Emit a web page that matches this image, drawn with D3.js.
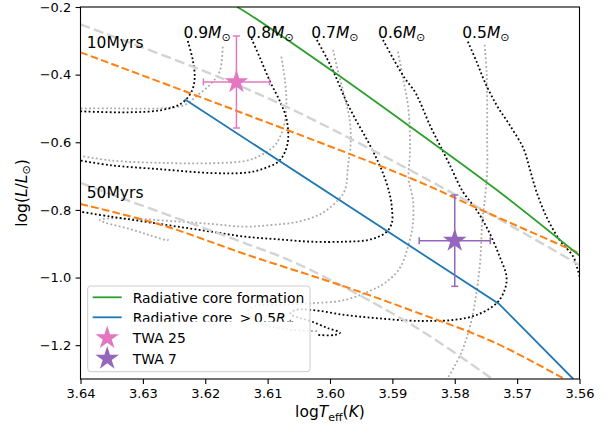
<!DOCTYPE html>
<html>
<head>
<meta charset="utf-8">
<script src="https://cdn.jsdelivr.net/npm/d3@7"></script>
<style>
  html, body { margin: 0; padding: 0; background: #fff; }
  svg { display: block; font-family: "DejaVu Sans", sans-serif; }
</style>
</head>
<body>
<svg id="chart" width="608" height="427"></svg>
<script>
// ---- axis ticks ----
const xTicks = [3.64, 3.63, 3.62, 3.61, 3.60, 3.59, 3.58, 3.57, 3.56];
const yTicks = [-1.2, -1.0, -0.8, -0.6, -0.4, -0.2];

// ---- evolutionary tracks, model A (black dotted): [logTeff, logL] ----
const trackA09 = [[3.6228,-0.3005],[3.6220,-0.3567],[3.6217,-0.4108],[3.6222,-0.4504],[3.6238,-0.4847],[3.6270,-0.5046],[3.6324,-0.5114],[3.6400,-0.5085]];
const trackA08 = [[3.6126,-0.2925],[3.6112,-0.3517],[3.6096,-0.4209],[3.6080,-0.4800],[3.6070,-0.5291],[3.6067,-0.5882],[3.6072,-0.6279],[3.6083,-0.6574],[3.6110,-0.6800],[3.6136,-0.6900],[3.6190,-0.6910],[3.6270,-0.6800],[3.6351,-0.6680],[3.6400,-0.6540]];
const trackA07 = [[3.6021,-0.2976],[3.6005,-0.3517],[3.5992,-0.4011],[3.5976,-0.4700],[3.5960,-0.5291],[3.5939,-0.5983],[3.5923,-0.6574],[3.5912,-0.7065],[3.5904,-0.7559],[3.5901,-0.7905],[3.5901,-0.8396],[3.5912,-0.8691],[3.5939,-0.8889],[3.5976,-0.8940],[3.6030,-0.8940],[3.6083,-0.8869],[3.6136,-0.8792],[3.6190,-0.8644],[3.6244,-0.8496],[3.6297,-0.8348],[3.6351,-0.8200],[3.6400,-0.8053]];
const trackA06 = [[3.5915,-0.2976],[3.5899,-0.3517],[3.5880,-0.4108],[3.5864,-0.4504],[3.5856,-0.4800],[3.5840,-0.5489],[3.5824,-0.6080],[3.5808,-0.6672],[3.5787,-0.7461],[3.5765,-0.8002],[3.5744,-0.8691],[3.5728,-0.9383],[3.5717,-0.9975],[3.5720,-1.0368],[3.5733,-1.0761],[3.5765,-1.1107],[3.5803,-1.1255],[3.5845,-1.1284],[3.5872,-1.1275],[3.5923,-1.1205],[3.5976,-1.1107],[3.6029,-1.0959],[3.6056,-1.0965],[3.6064,-1.1077],[3.6048,-1.1196],[3.6029,-1.1305],[3.6003,-1.1500],[3.5984,-1.1630],[3.5992,-1.1698],[3.6019,-1.1698]];
const trackA05 = [[3.5779,-0.3026],[3.5765,-0.3617],[3.5752,-0.4209],[3.5733,-0.4898],[3.5712,-0.5489],[3.5690,-0.6178],[3.5680,-0.6769],[3.5669,-0.7461],[3.5653,-0.8201],[3.5632,-0.8889],[3.5610,-0.9383],[3.5602,-0.9827],[3.5596,-1.0220]];

// ---- evolutionary tracks, model B (grey dotted) ----
const trackB09 = [[3.6172,-0.3174],[3.6177,-0.3913],[3.6193,-0.4306],[3.6212,-0.4602],[3.6233,-0.4898],[3.6270,-0.4995],[3.6351,-0.4995],[3.6400,-0.4995]];
const trackB08 = [[3.6078,-0.3470],[3.6072,-0.4209],[3.6070,-0.4898],[3.6075,-0.5587],[3.6088,-0.6080],[3.6110,-0.6376],[3.6136,-0.6550],[3.6190,-0.6620],[3.6270,-0.6610],[3.6351,-0.6540],[3.6400,-0.6400]];
const trackB07 = [[3.5995,-0.3271],[3.5987,-0.3913],[3.5976,-0.4700],[3.5968,-0.5391],[3.5967,-0.6080],[3.5971,-0.6672],[3.5976,-0.7411],[3.5987,-0.7707],[3.6013,-0.8100],[3.6051,-0.8348],[3.6094,-0.8446],[3.6136,-0.8496],[3.6190,-0.8416],[3.6244,-0.8342],[3.6305,-0.8269],[3.6353,-0.8254],[3.6369,-0.8298],[3.6361,-0.8372],[3.6321,-0.8564],[3.6289,-0.8749],[3.6260,-0.8889],[3.6263,-0.8800]];
const trackB06 = [[3.5891,-0.3322],[3.5883,-0.4108],[3.5875,-0.4898],[3.5872,-0.5687],[3.5872,-0.6376],[3.5874,-0.7065],[3.5867,-0.7707],[3.5867,-0.8396],[3.5872,-0.8889],[3.5888,-0.9717],[3.5912,-1.0161],[3.5933,-1.0368],[3.5976,-1.0664],[3.6029,-1.0761],[3.6080,-1.0811],[3.6120,-1.0841],[3.6132,-1.1018],[3.6112,-1.1344],[3.6072,-1.1521],[3.6032,-1.1580],[3.6019,-1.1580]];
const trackB05 = [[3.5752,-0.3120],[3.5749,-0.3910],[3.5748,-0.4900],[3.5748,-0.5880],[3.5748,-0.6870],[3.5751,-0.7560],[3.5756,-0.8400],[3.5760,-0.9680],[3.5773,-1.1250],[3.5789,-1.2200],[3.5813,-1.3030]];

// ---- mass labels (placed above each track) ----
const massLabels = ["0.9", "0.8", "0.7", "0.6", "0.5"];
const massLabelTeff = [3.6235, 3.6134, 3.6030, 3.5923, 3.5788];
const massLabelLum = -0.293;

// ---- isochrones ----
const iso10A = [[3.6400,-0.3340],[3.6132,-0.5193],[3.5864,-0.7115],[3.5760,-0.7982],[3.5600,-0.9283]];
const iso10B = [[3.6400,-0.2512],[3.6180,-0.4060],[3.6048,-0.5143],[3.5803,-0.7509],[3.5600,-0.9629]];
const iso50A = [[3.6400,-0.7825],[3.6270,-0.8446],[3.6132,-0.9333],[3.5976,-1.0270],[3.5864,-1.1010],[3.5738,-1.1905],[3.5624,-1.3000]];
const iso50B = [[3.6400,-0.7204],[3.6326,-0.7707],[3.6136,-0.8987],[3.6048,-0.9629],[3.5864,-1.1453],[3.5740,-1.3000]];
const isoNames = ["10Myrs", "50Myrs"];
const isoLabelTeff = [3.6390, 3.6390];
const isoLabelLum = [-0.320, -0.766];

// ---- radiative core boundaries ----
const radCoreFormation = [[3.6149,-0.2000],[3.6136,-0.2140],[3.5995,-0.3910],[3.5864,-0.5640],[3.5722,-0.7560],[3.5600,-0.9350]];
const radCoreHalf = [[3.6233,-0.4730],[3.5729,-1.0780],[3.5610,-1.3000]];

// ---- stars ----
const starNames = ["TWA 25", "TWA 7"];
const starTeff = [3.615, 3.580];
const starLum = [-0.422, -0.891];
const starTeffErr = [0.0053, 0.0057];
const starLumErr = [0.136, 0.135];
const starColors = ["#e377c2", "#9467bd"];

// ---- layout ----
const svg = d3.select("#chart");
const plot = { left: 80.5, right: 579.5, top: 7, bottom: 379 };
const x = d3.scaleLinear().domain([3.64, 3.56]).range([plot.left, plot.right]);
const y = d3.scaleLinear().domain([-1.3, -0.2]).range([plot.bottom, plot.top]);

svg.append("defs").append("clipPath").attr("id", "plotClip")
  .append("rect").attr("x", plot.left).attr("y", plot.top)
  .attr("width", plot.right - plot.left).attr("height", plot.bottom - plot.top);

const g = svg.append("g").attr("clip-path", "url(#plotClip)");

const smooth = d3.line().x(d => x(d[0])).y(d => y(d[1])).curve(d3.curveCatmullRom.alpha(0.5));
const straight = d3.line().x(d => x(d[0])).y(d => y(d[1]));

// grey dotted tracks
[trackB09, trackB08, trackB07, trackB06, trackB05].forEach(t => {
  g.append("path").attr("d", smooth(t)).attr("fill", "none")
    .attr("stroke", "#a9a9a9").attr("stroke-width", 1.8).attr("stroke-dasharray", "1.8,2.4");
});
// black dotted tracks
[trackA09, trackA08, trackA07, trackA06, trackA05].forEach(t => {
  g.append("path").attr("d", smooth(t)).attr("fill", "none")
    .attr("stroke", "#000").attr("stroke-width", 1.8).attr("stroke-dasharray", "1.8,2.4");
});
// isochrones
[iso10B, iso50B].forEach(t => {
  g.append("path").attr("d", smooth(t)).attr("fill", "none")
    .attr("stroke", "#d3d3d3").attr("stroke-width", 2.4).attr("stroke-dasharray", "10,4.4");
});
[iso10A, iso50A].forEach(t => {
  g.append("path").attr("d", smooth(t)).attr("fill", "none")
    .attr("stroke", "#ff7f0e").attr("stroke-width", 2).attr("stroke-dasharray", "7.7,3.3");
});
// radiative core lines
g.append("path").attr("d", smooth(radCoreFormation)).attr("fill", "none")
  .attr("stroke", "#2ca02c").attr("stroke-width", 1.8);
g.append("path").attr("d", straight(radCoreHalf)).attr("fill", "none")
  .attr("stroke", "#1f77b4").attr("stroke-width", 1.8);

// stars with error bars
const starPath = d3.symbol().type(d3.symbolStar).size(175);
const cap = 3.5;
starNames.forEach((name, i) => {
  const cx = x(starTeff[i]), cy = y(starLum[i]);
  const x0 = x(starTeff[i] + starTeffErr[i]), x1 = x(starTeff[i] - starTeffErr[i]);
  const y0 = y(starLum[i] + starLumErr[i]), y1 = y(starLum[i] - starLumErr[i]);
  const eg = g.append("g").attr("stroke", starColors[i]).attr("stroke-width", 1.5);
  eg.append("line").attr("x1", x0).attr("x2", x1).attr("y1", cy).attr("y2", cy);
  eg.append("line").attr("x1", cx).attr("x2", cx).attr("y1", y0).attr("y2", y1);
  [x0, x1].forEach(v => eg.append("line").attr("x1", v).attr("x2", v).attr("y1", cy - cap).attr("y2", cy + cap));
  [y0, y1].forEach(v => eg.append("line").attr("y1", v).attr("y2", v).attr("x1", cx - cap).attr("x2", cx + cap));
  g.append("path").attr("d", starPath()).attr("transform", `translate(${cx},${cy})`)
    .attr("fill", starColors[i]);
});

// text annotations
const ann = svg.append("g").attr("fill", "#000");
isoNames.forEach((s, i) => {
  ann.append("text").attr("x", x(isoLabelTeff[i])).attr("y", y(isoLabelLum[i]))
    .attr("font-size", 15.5).text(s);
});
massLabels.forEach((m, i) => {
  const t = ann.append("text").attr("x", x(massLabelTeff[i])).attr("y", y(massLabelLum))
    .attr("font-size", 15.5);
  t.append("tspan").text(m);
  t.append("tspan").attr("font-style", "italic").text("M");
  t.append("tspan").attr("font-size", 11).attr("dy", 3).text("\u2299");
});

// axes
const xAxis = d3.axisBottom(x).tickValues(xTicks).tickFormat(d3.format(".2f"))
  .tickSize(4.9).tickSizeOuter(0).tickPadding(4.4);
const yAxis = d3.axisLeft(y).tickValues(yTicks).tickFormat(d3.format(".1f"))
  .tickSize(4.9).tickSizeOuter(0).tickPadding(4.4);
const gx = svg.append("g").attr("transform", `translate(0,${plot.bottom})`).call(xAxis);
const gy = svg.append("g").attr("transform", `translate(${plot.left},0)`).call(yAxis);
[gx, gy].forEach(a => {
  a.select(".domain").remove();
  a.selectAll(".tick line").attr("stroke", "#000").attr("stroke-width", 1.1);
  a.selectAll(".tick text").attr("font-size", 13).attr("fill", "#000")
    .attr("font-family", "DejaVu Sans, sans-serif");
});

svg.append("rect").attr("x", plot.left).attr("y", plot.top)
  .attr("width", plot.right - plot.left).attr("height", plot.bottom - plot.top)
  .attr("fill", "none").attr("stroke", "#000").attr("stroke-width", 1.1);

// axis labels
const xl = svg.append("text").attr("x", (plot.left + plot.right) / 2).attr("y", 417)
  .attr("text-anchor", "middle").attr("font-size", 15.5);
xl.append("tspan").text("log");
xl.append("tspan").attr("font-style", "italic").text("T");
xl.append("tspan").attr("font-size", 11).attr("dy", 3.5).text("eff");
xl.append("tspan").attr("dy", -3.5).text("(");
xl.append("tspan").attr("font-style", "italic").text("K");
xl.append("tspan").text(")");

const yl = svg.append("text")
  .attr("transform", `translate(26.5,${(plot.top + plot.bottom) / 2}) rotate(-90)`)
  .attr("text-anchor", "middle").attr("font-size", 15.5);
yl.append("tspan").text("log(");
yl.append("tspan").attr("font-style", "italic").text("L");
yl.append("tspan").text("/");
yl.append("tspan").attr("font-style", "italic").text("L");
yl.append("tspan").attr("font-size", 11).attr("dy", 3.5).text("\u2299");
yl.append("tspan").attr("dy", -3.5).text(")");

// legend
const lg = svg.append("g");
lg.append("rect").attr("x", 87.7).attr("y", 286).attr("width", 222.3).attr("height", 85.7)
  .attr("rx", 3).attr("fill", "#fff").attr("fill-opacity", 0.8)
  .attr("stroke", "#cccccc").attr("stroke-width", 1);
const rowY = [297.3, 317.3, 338.0, 358.6];
const textX = 132.7;
lg.append("line").attr("x1", 92.7).attr("x2", 121.7).attr("y1", rowY[0]).attr("y2", rowY[0])
  .attr("stroke", "#2ca02c").attr("stroke-width", 1.8);
lg.append("line").attr("x1", 92.7).attr("x2", 121.7).attr("y1", rowY[1]).attr("y2", rowY[1])
  .attr("stroke", "#1f77b4").attr("stroke-width", 1.8);
lg.append("text").attr("x", textX).attr("y", rowY[0] + 5.3).attr("font-size", 13.9)
  .text("Radiative core formation");
svg.select("defs").append("clipPath").attr("id", "rowClip")
  .append("rect").attr("x", 125).attr("y", 300).attr("width", 190).attr("height", 21.8);
const r2 = lg.append("text").attr("x", textX).attr("y", rowY[1] + 5.3).attr("font-size", 13.9)
  .attr("clip-path", "url(#rowClip)");
r2.append("tspan").text("Radiative core \u2009>\u20090.5");
r2.append("tspan").attr("font-style", "italic").text("R");
r2.append("tspan").attr("font-size", 10).attr("dy", 3).text("\u2217");
starNames.forEach((name, i) => {
  lg.append("path").attr("d", starPath()).attr("transform", `translate(107.2,${rowY[2 + i]})`)
    .attr("fill", starColors[i]);
  lg.append("text").attr("x", textX).attr("y", rowY[2 + i] + 5).attr("font-size", 13.9).text(name);
});
</script>
</body>
</html>
